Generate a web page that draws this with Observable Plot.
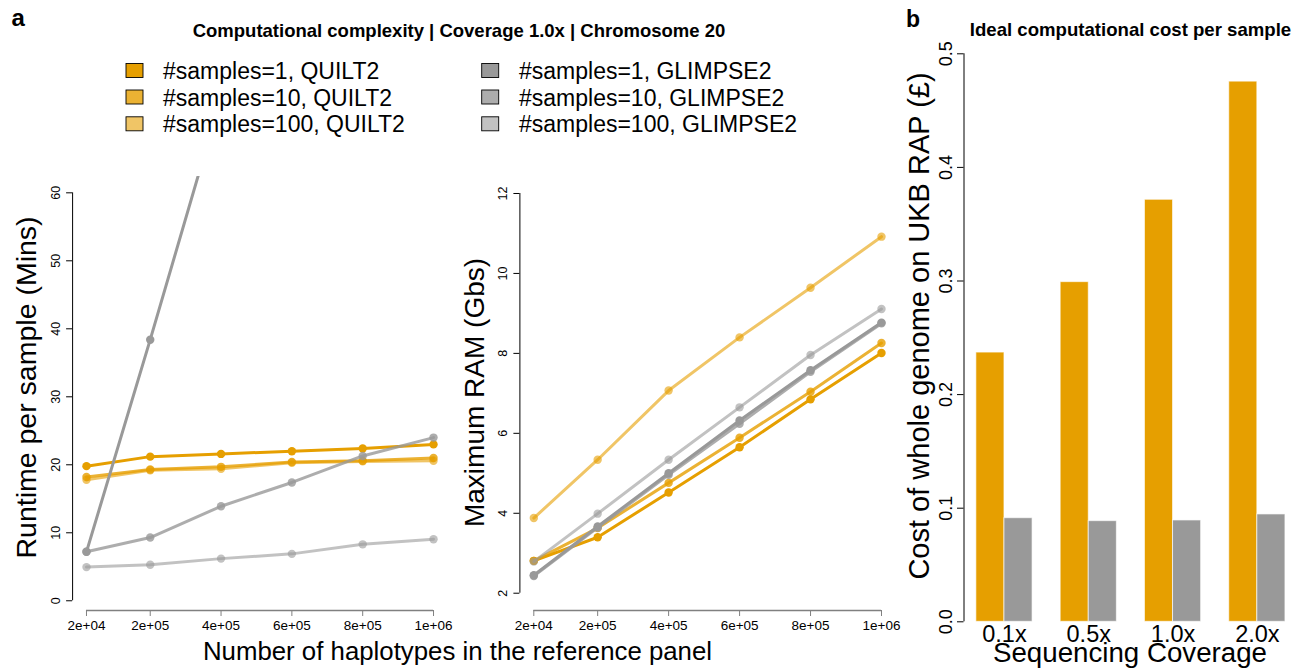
<!DOCTYPE html>
<html><head><meta charset="utf-8">
<script src="https://cdn.jsdelivr.net/npm/d3@7"></script>
<script src="https://cdn.jsdelivr.net/npm/@observablehq/plot@0.6"></script>
<style>
body{margin:0;background:#fff;}
#wrap{position:relative;width:1304px;height:669px;overflow:hidden;font-family:"Liberation Sans",Arial,Helvetica,sans-serif;}
#wrap > svg{position:absolute;top:0;margin:0;}
</style></head><body><div id="wrap"></div>
<script>
// ---------------- data ----------------
const haplotypes = [20000, 200000, 400000, 600000, 800000, 1000000];
const xTickLabels = ["2e+04", "2e+05", "4e+05", "6e+05", "8e+05", "1e+06"];

const seriesNames = ["#samples=1, QUILT2", "#samples=10, QUILT2", "#samples=100, QUILT2",
                     "#samples=1, GLIMPSE2", "#samples=10, GLIMPSE2", "#samples=100, GLIMPSE2"];
const seriesColor = ["#E69F00", "#E69F00", "#E69F00", "#999999", "#999999", "#999999"];
const seriesAlpha = [1, 0.8, 0.6, 1, 0.8, 0.6];

// Runtime per sample (Mins)
const runtimeQuilt1 = [19.8, 21.2, 21.6, 22.0, 22.4, 23.0];
const runtimeQuilt10 = [18.2, 19.3, 19.7, 20.4, 20.6, 21.0];
const runtimeQuilt100 = [17.8, 19.2, 19.4, 20.3, 20.5, 20.6];
const runtimeGlimpse1 = [7.2, 38.4, 74, 110, 147, 183];
const runtimeGlimpse10 = [7.2, 9.3, 13.9, 17.4, 21.3, 24.0];
const runtimeGlimpse100 = [4.95, 5.3, 6.2, 6.9, 8.3, 9.05];

// Maximum RAM (Gbs)
const ramQuilt1 = [2.81, 3.40, 4.52, 5.65, 6.85, 8.01];
const ramQuilt10 = [2.81, 3.63, 4.76, 5.89, 7.04, 8.26];
const ramQuilt100 = [3.88, 5.34, 7.07, 8.40, 9.64, 10.92];
const ramGlimpse1 = [2.45, 3.67, 5.00, 6.32, 7.58, 8.77];
const ramGlimpse10 = [2.43, 3.64, 4.96, 6.24, 7.54, 8.75];
const ramGlimpse100 = [2.79, 3.99, 5.34, 6.65, 7.96, 9.11];

const runtimeTicks = [0, 10, 20, 30, 40, 50, 60];
const ramTicks = [2, 4, 6, 8, 10, 12];

// Panel b: ideal computational cost per sample (£)
const coverage = ["0.1x", "0.5x", "1.0x", "2.0x"];
const methods = ["QUILT2", "GLIMPSE2"];
const methodColors = ["#E69F00", "#999999"];
const costQuilt = [0.237, 0.299, 0.3715, 0.4755];
const costGlimpse = [0.0912, 0.0886, 0.0892, 0.0945];
const costTicks = [0, 0.1, 0.2, 0.3, 0.4, 0.5];

// ---------------- build ----------------
const FONT = '"Liberation Sans", Arial, Helvetica, sans-serif';
const wrap = document.getElementById("wrap");

function tidy(seriesValues) {
  return seriesValues.map((vals, s) => vals.map((v, i) => ({series: s, x: haplotypes[i], y: v})));
}

function linePanel({left, seriesValues, yDomain, yTicks, marginLeft, marginRight, marginTop}) {
  const xDomain = [-19200, 1039200];
  const rows = tidy(seriesValues);
  const seriesMarks = rows.flatMap((r, s) => [
    Plot.line(r, {x: "x", y: "y", stroke: seriesColor[s], strokeOpacity: seriesAlpha[s], strokeWidth: 3, clip: true}),
    Plot.dot(r, {x: "x", y: "y", r: 4.2, fill: seriesColor[s], fillOpacity: seriesAlpha[s], stroke: "none", clip: true})
  ]);
  const svg = Plot.plot({
    width: 450, height: 669,
    marginLeft, marginRight, marginTop, marginBottom: 59,
    x: {domain: xDomain, axis: null},
    y: {domain: yDomain, axis: null},
    style: {fontFamily: FONT, background: "none", overflow: "visible"},
    marks: [
      Plot.ruleX([xDomain[0]], {y1: yTicks[0], y2: yTicks[yTicks.length - 1], stroke: "black", strokeWidth: 1}),
      Plot.ruleY([yDomain[0]], {x1: haplotypes[0], x2: haplotypes[haplotypes.length - 1], stroke: "#808080", strokeWidth: 1.3}),
      Plot.axisY({ticks: yTicks, tickSize: 6, tickRotate: -90, tickPadding: 6.6, fontSize: 12.5, color: "black", label: null}),
      Plot.axisX({ticks: haplotypes, tickFormat: d => xTickLabels[haplotypes.indexOf(d)], tickSize: 6, tickPadding: 4.4,
                  fontSize: 13.5, stroke: "#808080", fill: "black", label: null}),
      ...seriesMarks
    ]
  });
  svg.style.left = left + "px";
  wrap.appendChild(svg);
}

linePanel({left: 0,
  seriesValues: [runtimeQuilt1, runtimeQuilt10, runtimeQuilt100, runtimeGlimpse1, runtimeGlimpse10, runtimeGlimpse100],
  yDomain: [-1.43, 62.4], yTicks: runtimeTicks, marginLeft: 72.1, marginRight: 3.1, marginTop: 176});

linePanel({left: 450,
  seriesValues: [ramQuilt1, ramQuilt10, ramQuilt100, ramGlimpse1, ramGlimpse10, ramGlimpse100],
  yDomain: [1.5675, 12.4175], yTicks: ramTicks, marginLeft: 69.4, marginRight: 5.1, marginTop: 176.3});

// bar panel (R barplot beside=TRUE, space=c(0,1) layout)
const costRows = coverage.flatMap((c, i) => methods.map((m, j) => ({
  coverage: c, method: m, cost: (j === 0 ? costQuilt : costGlimpse)[i],
  x1: 1 + 3 * i + j, x2: 2 + 3 * i + j
})));
const barSvg = Plot.plot({
  width: 404, height: 669,
  marginLeft: 63.5, marginRight: 6.7, marginTop: 53.3, marginBottom: 47.7,
  x: {domain: [0.56, 12.44], axis: null},
  y: {domain: [0, 0.5], axis: null},
  color: {domain: methods, range: methodColors},
  style: {fontFamily: FONT, background: "none", overflow: "visible"},
  marks: [
    Plot.rectY(costRows, {x1: "x1", x2: "x2", y1: 0, y2: "cost", fill: "method", stroke: "white", strokeOpacity: 0.65, strokeWidth: 1}),
    Plot.ruleX([0.56], {y1: 0, y2: 0.5, stroke: "black"}),
    Plot.axisY({ticks: costTicks, tickFormat: d3.format(".1f"), tickSize: 6.5, tickRotate: -90, tickPadding: 6,
                fontSize: 18, color: "black", label: null}),
    Plot.text(coverage, {x: (d, i) => 2 + 3 * i, y: 0, dy: 20.4, text: d => d, fontSize: 23.5, lineAnchor: "bottom", fill: "black"})
  ]
});
barSvg.style.left = "900px";
wrap.appendChild(barSvg);

// ---------------- overlay text & legend ----------------
const ov = d3.select(wrap).append("svg")
  .attr("width", 1304).attr("height", 669)
  .style("position", "absolute").style("left", "0px").style("top", "0px")
  .style("pointer-events", "none")
  .attr("font-family", FONT);

function txt(x, y, s, size, opts = {}) {
  const t = ov.append("text").attr("x", x).attr("y", y).text(s)
    .attr("font-size", size).attr("fill", "black")
    .attr("text-anchor", opts.anchor || "start")
    .attr("font-weight", opts.bold ? "bold" : "normal");
  if (opts.rotate) t.attr("transform", `rotate(${opts.rotate},${x},${y})`);
  return t;
}

txt(11.5, 26, "a", 24, {bold: true});
txt(906, 26.5, "b", 23, {bold: true});
txt(459, 37, "Computational complexity | Coverage 1.0x | Chromosome 20", 18.5, {bold: true, anchor: "middle"});
txt(1130.5, 35.5, "Ideal computational cost per sample", 18.6, {bold: true, anchor: "middle"});

// legend
const legendRowsY = [63.5, 90, 116.8];
seriesNames.forEach((name, s) => {
  const col = s < 3 ? 0 : 1;
  const row = s % 3;
  const sx = col === 0 ? 126 : 481.7;
  const tx = col === 0 ? 163 : 519;
  ov.append("rect").attr("x", sx).attr("y", legendRowsY[row]).attr("width", 17).attr("height", 14)
    .attr("fill", seriesColor[s]).attr("fill-opacity", seriesAlpha[s])
    .attr("stroke", "black").attr("stroke-width", 0.9);
  txt(tx, legendRowsY[row] + 15.5, name, 23);
});

// axis titles
txt(36, 387.5, "Runtime per sample (Mins)", 28.5, {anchor: "middle", rotate: -90});
txt(484, 392.5, "Maximum RAM (Gbs)", 28, {anchor: "middle", rotate: -90});
txt(457.5, 660, "Number of haplotypes in the reference panel", 25.8, {anchor: "middle"});
txt(929, 326, "Cost of whole genome on UKB RAP (£)", 29, {anchor: "middle", rotate: -90});
txt(1130, 662, "Sequencing Coverage", 27.7, {anchor: "middle"});
</script></body></html>
